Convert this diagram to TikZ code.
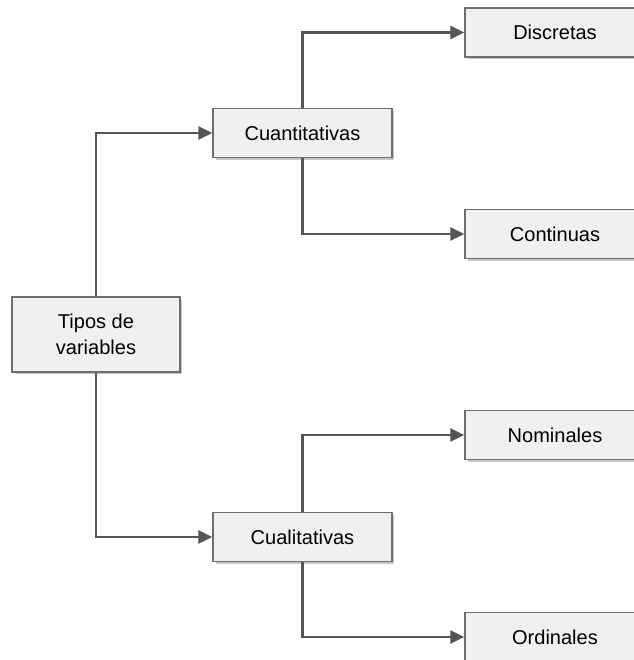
\documentclass[tikz,border=0pt]{standalone}
\usepackage{fontspec}
\setmainfont{Liberation Sans}
\usepackage{xcolor}
\usetikzlibrary{arrows.meta,shadows}

\definecolor{linegray}{HTML}{555555}
\definecolor{boxborder}{HTML}{6E6E6E}
\definecolor{boxfill}{HTML}{F0F0F0}

\tikzset{
    caja/.style={draw=boxborder, line width=0.8pt, fill=boxfill,
        drop shadow={shadow xshift=0.05cm, shadow yshift=-0.05cm, fill=black!22, opacity=1},
        font=\fontsize{11.4}{14.7}\selectfont, align=center, inner sep=0pt},
    rama/.style={draw=linegray, line width=1.5pt, line join=miter,
        -{Triangle[length=8pt, width=7.5pt]}}
}

\begin{document}
\begin{tikzpicture}[x=0.02cm, y=-0.02cm]

                        \useasboundingbox (0,0) rectangle (633,660);

                        % raiz
                        \node [caja, minimum width=3.36cm, minimum height=1.5cm] (tipos) at (96,334.5) {Tipos de\\variables};
                        % segundo nivel
                        \node [caja, minimum width=3.58cm, minimum height=0.98cm] (cuanti) at (302.5,133) {Cuantitativas};
                        \node [caja, minimum width=3.58cm, minimum height=0.98cm] (cuali) at (302.5,537) {Cualitativas};
                        % hojas
                        \node [caja, minimum width=3.6cm, minimum height=0.98cm] (discretas) at (555,32.5) {Discretas};
                        \node [caja, minimum width=3.6cm, minimum height=0.98cm] (continuas) at (555,234) {Continuas};
                        \node [caja, minimum width=3.6cm, minimum height=0.98cm] (nominales) at (555,435) {Nominales};
                        \node [caja, minimum width=3.6cm, minimum height=0.98cm] (ordinales) at (555,637) {Ordinales};

                        % ramas
                        \draw[rama] (tipos.north) |- (cuanti.west);
                        \draw[rama] (tipos.south) |- (cuali.west);
                        \draw[rama] (cuanti.north) |- (discretas.west);
                        \draw[rama] (cuanti.south) |- (continuas.west);
                        \draw[rama] (cuali.north) |- (nominales.west);
                        \draw[rama] (cuali.south) |- (ordinales.west);

                    \end{tikzpicture}
\end{document}
